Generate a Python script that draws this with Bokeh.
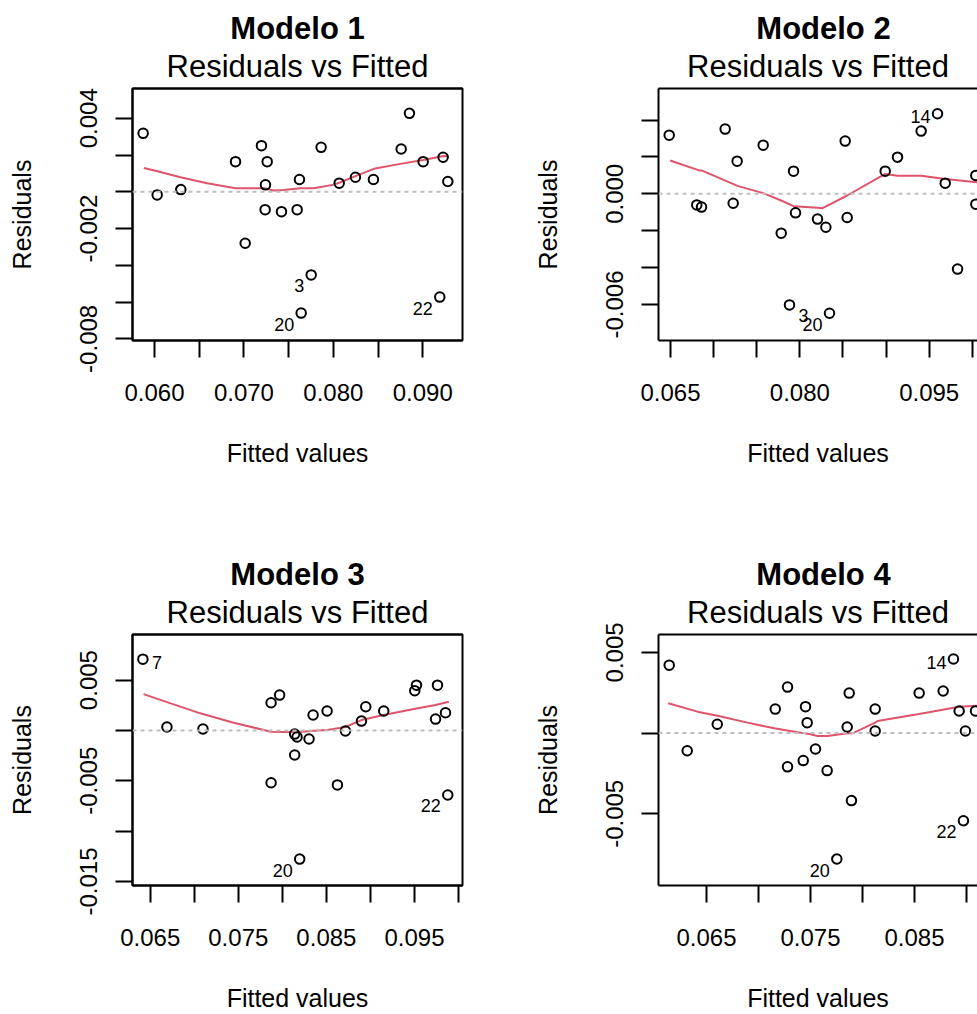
import math
from bokeh.plotting import figure
from bokeh.models import (Span, Title, FixedTicker, CustomJSTickFormatter,
                          LinearAxis, ColumnDataSource)
from bokeh.layouts import column, row
from bokeh.core.properties import value
from bokeh.embed import file_html
from bokeh.resources import INLINE

FONT = "Liberation Sans"

# ---------------- data ----------------
titles = ["Modelo 1", "Modelo 2", "Modelo 3", "Modelo 4"]

fitted1 = [0.05873, 0.06030, 0.06294, 0.06906, 0.07014, 0.07196, 0.07260, 0.07241,
           0.07237, 0.07420, 0.07595, 0.07621, 0.07640, 0.07752, 0.07863, 0.08065,
           0.08247, 0.08448, 0.08758, 0.08851, 0.09004, 0.09190, 0.09227, 0.09280]
resid1 = [0.00318, -0.00017, 0.00012, 0.00164, -0.00280, 0.00251, 0.00164, 0.00038,
          -0.00097, -0.00108, -0.00097, 0.00067, -0.00660, -0.00452, 0.00242, 0.00047,
          0.00079, 0.00067, 0.00233, 0.00427, 0.00164, -0.00573, 0.00188, 0.00056]
ids1 = ["", "", "", "", "", "", "", "", "", "", "", "", "20", "3", "", "",
        "", "", "", "", "", "22", "", ""]
smooth1_x = [0.05881, 0.06011, 0.06291, 0.06589, 0.06906, 0.07222, 0.07334, 0.07446,
             0.07632, 0.07781, 0.08005, 0.08080, 0.08247, 0.08452, 0.08750, 0.09004,
             0.09235, 0.09291]
smooth1_y = [0.00130, 0.00115, 0.00079, 0.00047, 0.00019, 0.00019, 0.00007, 0.00010,
             0.00019, 0.00019, 0.00039, 0.00052, 0.00085, 0.00125, 0.00152, 0.00173,
             0.00195, 0.00192]

fitted2 = [0.06485, 0.06805, 0.06860, 0.07134, 0.07227, 0.07273, 0.07575, 0.07784,
           0.07880, 0.07927, 0.07950, 0.08205, 0.08302, 0.08344, 0.08526, 0.08549,
           0.08990, 0.09133, 0.09407, 0.09597, 0.09686, 0.09829, 0.10041, 0.10041]
resid2 = [0.00318, -0.00060, -0.00072, 0.00351, -0.00051, 0.00177, 0.00264, -0.00213,
          -0.00602, 0.00123, -0.00103, -0.00137, -0.00181, -0.00647, 0.00286, -0.00128,
          0.00123, 0.00199, 0.00340, 0.00434, 0.00058, -0.00408, 0.00100, -0.00056]
ids2 = ["", "", "", "", "", "", "", "", "3", "", "", "", "", "20", "", "",
        "", "", "", "14", "", "", "", ""]
smooth2_x = [0.06496, 0.06832, 0.06860, 0.07277, 0.07575, 0.07784, 0.07927, 0.08205,
             0.08263, 0.08360, 0.08549, 0.08990, 0.09133, 0.09407, 0.09686, 0.10060]
smooth2_y = [0.00181, 0.00127, 0.00127, 0.00043, 0.00004, -0.00036, -0.00067, -0.00076,
             -0.00078, -0.00054, -0.00009, 0.00108, 0.00098, 0.00098, 0.00081, 0.00063]

fitted3 = [0.06417, 0.06690, 0.07099, 0.07872, 0.07969, 0.07872, 0.08140, 0.08167,
           0.08303, 0.08140, 0.08349, 0.08508, 0.08716, 0.08625, 0.08197, 0.08898,
           0.08947, 0.09151, 0.09523, 0.09503, 0.09761, 0.09739, 0.09852, 0.09878]
resid3 = [0.00708, 0.00034, 0.00014, 0.00275, 0.00351, -0.00519, -0.00036, -0.00065,
          -0.00085, -0.00244, 0.00153, 0.00193, -0.00006, -0.00541, -0.01278, 0.00093,
          0.00235, 0.00193, 0.00450, 0.00394, 0.00450, 0.00113, 0.00176, -0.00641]
ids3 = ["7", "", "", "", "", "", "", "", "", "", "", "", "", "", "20", "",
        "", "", "", "", "", "", "", "22"]
smooth3_x = [0.06424, 0.07068, 0.07447, 0.07872, 0.08167, 0.08356, 0.08508, 0.08716,
             0.08898, 0.09151, 0.09523, 0.09739, 0.09890]
smooth3_y = [0.00361, 0.00170, 0.00077, -0.00013, -0.00019, -0.00003, 0.00004, 0.00034,
             0.00103, 0.00153, 0.00219, 0.00252, 0.00285]

fitted4 = [0.06141, 0.06314, 0.06603, 0.07161, 0.07279, 0.07279, 0.07430, 0.07452,
           0.07468, 0.07548, 0.07660, 0.07753, 0.07853, 0.07872, 0.07894, 0.08122,
           0.08122, 0.08545, 0.08776, 0.08875, 0.08930, 0.08971, 0.08990, 0.09087]
resid4 = [0.00421, -0.00109, 0.00055, 0.00149, 0.00285, -0.00209, -0.00170, 0.00164,
          0.00065, -0.00098, -0.00232, -0.00780, 0.00038, 0.00248, -0.00418, 0.00149,
          0.00013, 0.00248, 0.00261, 0.00459, 0.00137, -0.00543, 0.00013, 0.00137]
ids4 = ["", "", "", "", "", "", "", "", "", "", "", "20", "", "", "", "",
        "", "", "", "14", "", "22", "", ""]
smooth4_x = [0.06132, 0.06413, 0.06606, 0.06894, 0.07151, 0.07375, 0.07488, 0.07567,
             0.07663, 0.07856, 0.07904, 0.08122, 0.08144, 0.08545, 0.08930, 0.09106]
smooth4_y = [0.00185, 0.00133, 0.00108, 0.00065, 0.00030, 0.00005, -0.00005, -0.00018,
             -0.00018, -0.00001, -0.00001, 0.00065, 0.00075, 0.00118, 0.00164, 0.00170]

# axis limits (as in the original plot region)
xlim1, ylim1 = (0.05754, 0.09444), (-0.00809, 0.00562)
xlim2, ylim2 = (0.06361, 0.10188), (-0.00795, 0.00571)
xlim3, ylim3 = (0.06299, 0.10045), (-0.01540, 0.00953)
xlim4, ylim4 = (0.06038, 0.09212), (-0.00944, 0.00611)

# ticks and tick labels
xticks1 = [0.060, 0.065, 0.070, 0.075, 0.080, 0.085, 0.090]
xlabels1 = ["0.060", "", "0.070", "", "0.080", "", "0.090"]
yticks1 = [-0.008, -0.006, -0.004, -0.002, 0.000, 0.002, 0.004]
ylabels1 = ["-0.008", "", "", "-0.002", "", "", "0.004"]

xticks2 = [0.065, 0.070, 0.075, 0.080, 0.085, 0.090, 0.095, 0.100]
xlabels2 = ["0.065", "", "", "0.080", "", "", "0.095", ""]
yticks2 = [-0.006, -0.004, -0.002, 0.000, 0.002, 0.004]
ylabels2 = ["-0.006", "", "", "0.000", "", ""]

xticks3 = [0.065, 0.070, 0.075, 0.080, 0.085, 0.090, 0.095, 0.100]
xlabels3 = ["0.065", "", "0.075", "", "0.085", "", "0.095", ""]
yticks3 = [-0.015, -0.010, -0.005, 0.000, 0.005]
ylabels3 = ["-0.015", "", "-0.005", "", "0.005"]

xticks4 = [0.065, 0.070, 0.075, 0.080, 0.085, 0.090]
xlabels4 = ["0.065", "", "0.075", "", "0.085", ""]
yticks4 = [-0.005, 0.000, 0.005]
ylabels4 = ["-0.005", "", "0.005"]

subtitle = "Residuals vs Fitted"
xlab = "Fitted values"
ylab = "Residuals"

# ---------------- layout constants ----------------
FW, FH = 330, 252          # full plot-region size in px
LEFT_W, RIGHT_W = 526, 451
TOP_H, BOT_H = 546, 468
BORDER_TOP = 88
TITLE_PX = 31
BOLD_EM = 4.334            # advance width of "Modelo n" in Arial/Liberation bold (em)

TICK_CODE = """
for (let i = 0; i < vals.length; i++) {
  if (Math.abs(vals[i] - tick) < 1e-9) { return labs[i]; }
}
return "";
"""


def style_axis(ax, ticks, labels):
    ax.ticker = FixedTicker(ticks=ticks)
    ax.formatter = CustomJSTickFormatter(args=dict(vals=ticks, labs=labels), code=TICK_CODE)
    ax.axis_line_color = "black"
    ax.axis_line_width = 2
    ax.major_tick_line_color = "black"
    ax.major_tick_line_width = 2
    ax.major_tick_out = 17
    ax.major_tick_in = 0
    ax.minor_tick_line_color = None
    ax.major_label_text_font = FONT
    ax.major_label_text_font_size = "24px"
    ax.major_label_text_color = "black"
    ax.axis_label_text_font = FONT
    ax.axis_label_text_font_size = "25px"
    ax.axis_label_text_font_style = "normal"
    ax.axis_label_text_color = "black"


def text_axis(label, standoff, style, line):
    """An axis above the plot with no ticks: only a line and/or a centred label."""
    return LinearAxis(ticker=FixedTicker(ticks=[]),
                      axis_line_color="black" if line else None, axis_line_width=2,
                      major_tick_line_color=None, minor_tick_line_color=None,
                      major_label_text_font_size="0px", major_label_standoff=0,
                      axis_label=label, axis_label_standoff=standoff,
                      axis_label_text_font=FONT,
                      axis_label_text_font_size=f"{TITLE_PX}px",
                      axis_label_text_font_style=style, axis_label_text_color="black")


def make_panel(title, fitted, resid, ids, sx, sy, xlim, ylim,
               xticks, xlabels, yticks, ylabels, cut, fig_h):
    bl = 132
    br = 0 if cut else LEFT_W - bl - FW
    vis_w = (RIGHT_W - bl) if cut else FW
    width = bl + vis_w + br
    xspan = xlim[1] - xlim[0]
    xend = xlim[0] + xspan * vis_w / FW
    p = figure(width=width, height=fig_h, x_range=(xlim[0], xend), y_range=ylim,
               output_backend="svg", toolbar_location=None, title=None,
               min_border_left=bl, min_border_right=br,
               min_border_top=BORDER_TOP, min_border_bottom=fig_h - BORDER_TOP - FH)
    p.background_fill_color = "white"
    p.border_fill_color = "white"
    p.xgrid.grid_line_color = None
    p.ygrid.grid_line_color = None
    style_axis(p.xaxis[0], xticks, xlabels)
    style_axis(p.yaxis[0], yticks, ylabels)
    p.xaxis.major_label_standoff = 26
    p.yaxis.major_label_standoff = 18
    p.yaxis.major_label_orientation = "parallel"
    p.xaxis.axis_label = xlab
    p.xaxis.axis_label_standoff = 35
    p.yaxis.axis_label = ylab
    p.yaxis.axis_label_standoff = 42

    # top edge of the box + subtitle
    p.add_layout(text_axis(subtitle, 5, "normal", True), "above")

    if cut:
        p.outline_line_color = None
        tw = BOLD_EM * TITLE_PX
        p.add_layout(Title(text=title, align="left", offset=FW / 2 - tw / 2, standoff=0,
                           text_font=FONT, text_font_size=f"{TITLE_PX}px",
                           text_font_style="bold", text_color="black"), "above")
    else:
        p.outline_line_color = "black"
        p.outline_line_width = 2
        p.outline_line_alpha = 1.0
        p.add_layout(text_axis(title, 0, "bold", False), "above")

    p.add_layout(Span(location=0, dimension="width", line_color="#BEBEBE",
                      line_dash="4 4", line_width=2))
    p.line(sx, sy, line_color="#DF536B", line_width=2)
    p.scatter(fitted, resid, marker="circle", size=9.5, fill_color=None,
              line_color="black", line_width=2)

    xmid = (xlim[0] + xlim[1]) / 2
    for side in ("left", "right"):
        xs, ys, ts, xo, yo = [], [], [], [], []
        for f, r, t in zip(fitted, resid, ids):
            if not t:
                continue
            s = "left" if f > xmid else "right"
            if s != side:
                continue
            xs.append(f); ys.append(r); ts.append(t)
            xo.append(-7 if side == "left" else 9)
            yo.append(3 + (8 if r < 0 else 0))
        if xs:
            src = ColumnDataSource(dict(x=xs, y=ys, t=ts, xo=xo, yo=yo))
            p.text(x="x", y="y", text="t", source=src, x_offset="xo", y_offset="yo",
                   text_align="right" if side == "left" else "left",
                   text_baseline="middle", text_font=value(FONT),
                   text_font_size="18px", text_color="black")
    return p


p1 = make_panel(titles[0], fitted1, resid1, ids1, smooth1_x, smooth1_y, xlim1, ylim1,
                xticks1, xlabels1, yticks1, ylabels1, False, TOP_H)
p2 = make_panel(titles[1], fitted2, resid2, ids2, smooth2_x, smooth2_y, xlim2, ylim2,
                xticks2, xlabels2, yticks2, ylabels2, True, TOP_H)
p3 = make_panel(titles[2], fitted3, resid3, ids3, smooth3_x, smooth3_y, xlim3, ylim3,
                xticks3, xlabels3, yticks3, ylabels3, False, BOT_H)
p4 = make_panel(titles[3], fitted4, resid4, ids4, smooth4_x, smooth4_y, xlim4, ylim4,
                xticks4, xlabels4, yticks4, ylabels4, True, BOT_H)

layout = column(row(p1, p2), row(p3, p4))
open("out.html", "w").write(file_html(layout, INLINE))
